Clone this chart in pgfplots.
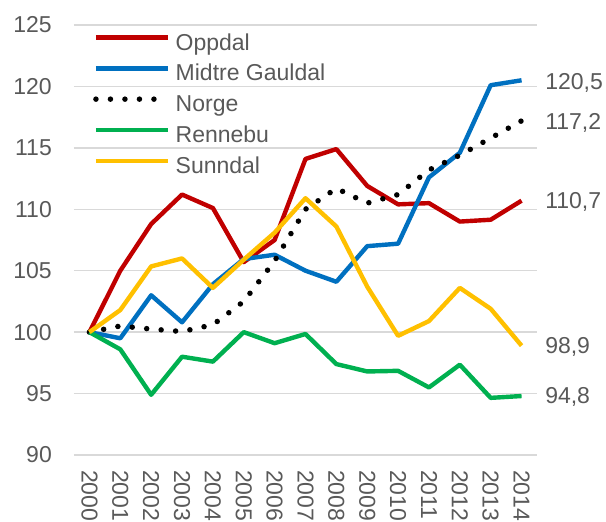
\documentclass[border=0pt]{standalone}
\usepackage{pgfplots}
\pgfplotsset{compat=1.18}
\usepackage{fontspec}
\setmainfont{Liberation Sans}
\definecolor{cred}{HTML}{C00000}
\definecolor{cblue}{HTML}{0070C0}
\definecolor{cgreen}{HTML}{00B050}
\definecolor{cyellow}{HTML}{FFC000}
\definecolor{cgrey}{HTML}{595959}
\definecolor{cgrid}{HTML}{D9D9D9}
\begin{document}
\begin{tikzpicture}
\useasboundingbox (-74pt,-67pt) rectangle (532pt,455pt);
\begin{axis}[
  scale only axis, width=463pt, height=430pt,
  xmin=1999.5, xmax=2014.5, ymin=90, ymax=125,
  xtick={2000,...,2014}, ytick={90,95,...,125},
  /pgf/number format/1000 sep={},
  /pgf/number format/assume math mode=true,
  axis line style={draw=none},
  tick style={draw=none},
  ymajorgrids, grid style={draw=cgrid, line width=1.5pt},
  tick label style={font=\fontsize{23}{27}\selectfont, text=cgrey},
  yticklabel style={inner sep=0pt},
  yticklabel shift=22pt,
  xticklabel style={rotate=-90, anchor=west, inner sep=0pt},
  xticklabel shift=15pt,
  clip=false,
  legend cell align=left,
  legend style={at={(rel axis cs:0,1)}, anchor=north west, xshift=19pt, yshift=-8.85pt,
    draw=none, fill=none, inner sep=0pt, row sep=9.8pt, column sep=5pt,
    nodes={inner sep=0pt, text height=16pt, text depth=5pt, font=\fontsize{23}{27}\selectfont, text=cgrey}},
  legend image code/.code={\draw[#1] (0pt,7pt) -- (72pt,7pt);},
  every axis plot/.append style={line join=round},
]
\addplot[cred, line width=4.4pt] coordinates {
(2000,100) (2001,105.0) (2002,108.8) (2003,111.2) (2004,110.1) (2005,105.7) (2006,107.5) (2007,114.1)
(2008,114.9) (2009,111.9) (2010,110.4) (2011,110.5) (2012,109.0) (2013,109.15) (2014,110.7)};
\addlegendentry{Oppdal}
\addplot[cblue, line width=4.4pt] coordinates {
(2000,100) (2001,99.5) (2002,103.0) (2003,100.8) (2004,103.9) (2005,105.95) (2006,106.3) (2007,105.0)
(2008,104.1) (2009,107.0) (2010,107.2) (2011,112.6) (2012,114.6) (2013,120.1) (2014,120.5)};
\addlegendentry{Midtre Gauldal}
\addplot[black, line width=5.5pt, line cap=round, dash pattern=on 0pt off 14.5pt] coordinates {
(2000,100) (2001,100.5) (2002,100.25) (2003,100.05) (2004,100.6) (2005,102.5) (2006,105.8) (2007,110.0)
(2008,111.7) (2009,110.5) (2010,111.2) (2011,113.2) (2012,114.4) (2013,115.8) (2014,117.2)};
\addlegendentry{Norge}
\addplot[cgreen, line width=4.4pt] coordinates {
(2000,100) (2001,98.6) (2002,94.9) (2003,98.0) (2004,97.6) (2005,100.0) (2006,99.1) (2007,99.85)
(2008,97.4) (2009,96.8) (2010,96.85) (2011,95.5) (2012,97.35) (2013,94.65) (2014,94.8)};
\addlegendentry{Rennebu}
\addplot[cyellow, line width=4.4pt] coordinates {
(2000,100) (2001,101.8) (2002,105.35) (2003,106.0) (2004,103.6) (2005,105.9) (2006,108.1) (2007,110.9)
(2008,108.6) (2009,103.7) (2010,99.7) (2011,100.9) (2012,103.6) (2013,101.9) (2014,98.9)};
\addlegendentry{Sunndal}
\begin{scope}[every node/.style={anchor=west, inner sep=0pt, font=\fontsize{23}{27}\selectfont, text=cgrey, xshift=23.5pt}]
\node at (axis cs:2014,120.28) {120,5};
\node at (axis cs:2014,117.03) {117,2};
\node at (axis cs:2014,110.6) {110,7};
\node at (axis cs:2014,98.8) {98,9};
\node at (axis cs:2014,94.76) {94,8};
\end{scope}
\end{axis}
\end{tikzpicture}
\end{document}
